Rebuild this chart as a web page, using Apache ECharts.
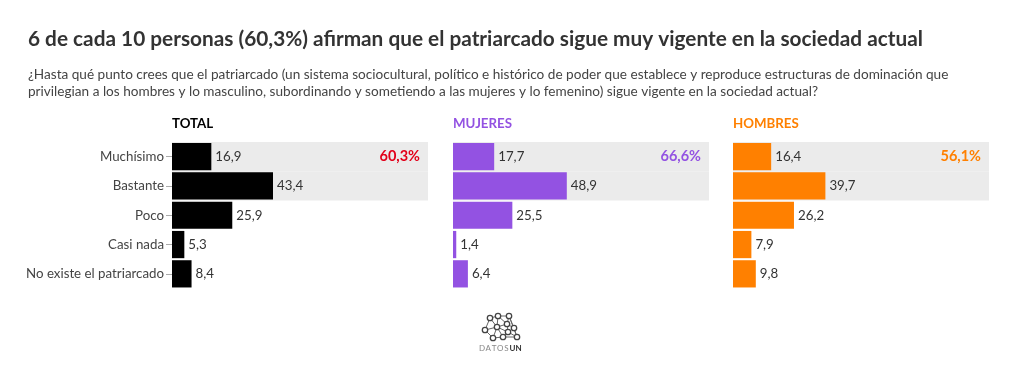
<!DOCTYPE html>
<html><head><meta charset="utf-8">
<script src="https://cdn.jsdelivr.net/npm/echarts@6/dist/echarts.min.js"></script>
<style>html,body{margin:0;padding:0;background:#fff}#c{width:1020px;height:371px}</style>
</head><body><div id="c"></div>
<script>
var categories = ['Muchísimo', 'Bastante', 'Poco', 'Casi nada', 'No existe el patriarcado'];
var totalValues = [16.9, 43.4, 25.9, 5.3, 8.4];
var mujeresValues = [17.7, 48.9, 25.5, 1.4, 6.4];
var hombresValues = [16.4, 39.7, 26.2, 7.9, 9.8];
var panelTitles = ['TOTAL', 'MUJERES', 'HOMBRES'];
var highlightTotals = ['60,3%', '66,6%', '56,1%'];
var highlightRows = ['Muchísimo', 'Bastante'];

var FONT = '"Source Sans Pro", Lato, sans-serif';
var AXIS_MAX = 110;
var colors = ['#000000', '#9352E2', '#FF8000'];
var titleColors = ['#000000', '#9352E2', '#FF8000'];
var hlColors = ['#E2001A', '#9352E2', '#FF8000'];
var panelData = [totalValues, mujeresValues, hombresValues];
var lefts = [172, 453, 733];
var W = 256, TOP = 142, H = 146.5;

function fmt(v){ return String(v).replace('.', ','); }

var grids = [], xAxes = [], yAxes = [], series = [], titles = [];
titles.push({text: '6 de cada 10 personas (60,3%) afirman que el patriarcado sigue muy vigente en la sociedad actual',
  left: 28, top: 29, padding: 0, textStyle: {fontFamily: FONT, fontSize: 20.8, fontWeight: 'bold', color: '#333'}});
titles.push({text: '¿Hasta qué punto crees que el patriarcado (un sistema sociocultural, político e histórico de poder que establece y reproduce estructuras de dominación que\nprivilegian a los hombres y lo masculino, subordinando y sometiendo a las mujeres y lo femenino) sigue vigente en la sociedad actual?',
  left: 28, top: 66, padding: 0, textStyle: {fontFamily: FONT, fontSize: 13.6, fontWeight: 'normal', color: '#444', lineHeight: 17}});

for (var p = 0; p < 3; p++) {
  grids.push({left: lefts[p], top: TOP, width: W, height: H, containLabel: false});
  xAxes.push({gridIndex: p, type: 'value', min: 0, max: AXIS_MAX, show: false});
  yAxes.push({gridIndex: p, type: 'category', data: categories, inverse: true,
    axisLine: {show: false},
    axisTick: {show: p === 0, length: 6, lineStyle: {color: '#aaa'}, alignWithLabel: true},
    axisLabel: {show: p === 0, margin: 8, fontFamily: FONT, fontSize: 13.3, color: '#444'}});
  yAxes.push({gridIndex: p, type: 'category', data: categories, inverse: true, show: false});
  titles.push({text: panelTitles[p], left: lefts[p], top: 117, padding: 0,
    textStyle: {fontFamily: FONT, fontSize: 13.3, fontWeight: 'bold', color: titleColors[p]}});
  var band = categories.map(function(c, i){
    if (highlightRows.indexOf(c) < 0) return null;
    return {value: AXIS_MAX, label: {show: i === 0}};
  });
  (function(p){
  series.push({type: 'bar', xAxisIndex: p, yAxisIndex: 2*p + 1, data: band, barWidth: '100%', silent: true,
    itemStyle: {color: '#EBEBEB'}, z: 1,
    label: {position: 'insideRight', distance: 8, formatter: function(){ return highlightTotals[p]; },
      fontFamily: FONT, fontSize: 14.5, fontWeight: 'bold', color: hlColors[p]}});
  series.push({type: 'bar', xAxisIndex: p, yAxisIndex: 2*p, data: panelData[p], barCategoryGap: '7%', z: 2,
    itemStyle: {color: colors[p]},
    label: {show: true, position: 'right', distance: 4, fontFamily: FONT, fontSize: 13.3, color: '#333',
      formatter: function(o){ return fmt(o.value); }}});
  })(p);
}

// logo (decorative)
var nodes = [[490,318],[498,316],[509,316],[485,330],[497,327],[507,324],[514,328],[508,332],[503,337],[517,337],[493,338]];
var edges = [[0,1],[1,2],[0,3],[0,4],[1,4],[1,5],[2,5],[2,6],[2,9],[3,4],[3,10],[4,5],[5,6],[5,7],[6,7],[6,9],[7,9],[7,8],[4,8],[8,10],[4,10],[4,7],[8,9]];
var logo = [];
edges.forEach(function(e){
  logo.push({type:'line', shape:{x1:nodes[e[0]][0],y1:nodes[e[0]][1],x2:nodes[e[1]][0],y2:nodes[e[1]][1]}, style:{stroke:'#666', lineWidth:1}});
});
nodes.forEach(function(n){
  logo.push({type:'circle', shape:{cx:n[0],cy:n[1],r:2.7}, style:{fill:'#fff', stroke:'#444', lineWidth:1.3}});
});
var letters = 'DATOSUN'.split('');
letters.forEach(function(ch, i){
  var bold = i >= 5;
  logo.push({type:'text', style:{x: 482 + i*6.1, y: 348, text: ch, font: (bold ? 'bold ' : '') + '8px ' + FONT,
    fill: bold ? '#333' : '#888', textAlign: 'center', textVerticalAlign: 'middle'}});
});

var chart = echarts.init(document.getElementById('c'), null, {renderer: 'canvas'});
chart.setOption({
  animation: false,
  backgroundColor: '#fff',
  title: titles,
  grid: grids, xAxis: xAxes, yAxis: yAxes, series: series,
  graphic: logo
});
</script></body></html>
